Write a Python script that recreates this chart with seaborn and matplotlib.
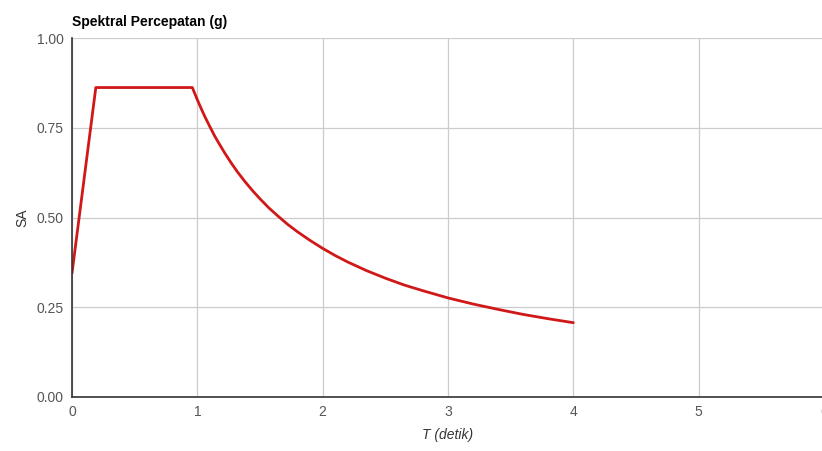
import matplotlib
matplotlib.use("Agg")
import matplotlib.pyplot as plt
import seaborn as sns
import pandas as pd

# Data
T = [0.0, 0.19, 0.96, 0.98, 1.0, 1.03, 1.06, 1.1, 1.14, 1.18, 1.22, 1.27, 1.32, 1.38,
     1.44, 1.5, 1.57, 1.64, 1.72, 1.8, 1.9, 2.0, 2.1, 2.2, 2.35, 2.5, 2.65, 2.8,
     3.0, 3.2, 3.4, 3.6, 3.8, 4.0]
SA = [0.345, 0.862, 0.862, 0.845, 0.828, 0.804, 0.781, 0.753, 0.726, 0.702, 0.679,
      0.652, 0.627, 0.600, 0.575, 0.552, 0.527, 0.505, 0.481, 0.460, 0.436, 0.414,
      0.394, 0.376, 0.352, 0.331, 0.312, 0.296, 0.276, 0.259, 0.244, 0.230, 0.218, 0.207]
x_ticks = [0, 1, 2, 3, 4, 5, 6]
y_ticks = [0.00, 0.25, 0.50, 0.75, 1.00]
title = "Spektral Percepatan (g)"
xlabel = "T (detik)"
ylabel = "SA"

df = pd.DataFrame({"T": T, "SA": SA})

sns.set_theme(style="white")
plt.rcParams["font.family"] = ["Liberation Sans", "DejaVu Sans"]

fig = plt.figure(figsize=(8.22, 4.51), dpi=100)
ax = fig.add_axes([72 / 822, 1 - 397 / 451, (824 - 72) / 822, (397 - 38) / 451])

sns.lineplot(data=df, x="T", y="SA", sort=False, color="#d01818", linewidth=2.0, ax=ax)

ax.set_xlim(0, 6)
ax.set_ylim(0, 1)
ax.set_xticks(x_ticks)
ax.set_yticks(y_ticks)
ax.set_xticklabels([str(v) for v in x_ticks])
ax.set_yticklabels([f"{v:.2f}" for v in y_ticks])
ax.grid(True, color="#cccccc", linewidth=0.9)
ax.set_axisbelow(True)
for s in ["top", "right"]:
    ax.spines[s].set_visible(False)
for s in ["left", "bottom"]:
    ax.spines[s].set_color("#333333")
    ax.spines[s].set_linewidth(1.2)
ax.tick_params(axis="both", length=0, labelsize=10, labelcolor="#555555", pad=6)
ax.set_xlabel(xlabel, fontsize=10, style="italic", color="#333333", labelpad=6)
ax.set_ylabel(ylabel, fontsize=10, color="#333333", labelpad=5)
fig.text(72 / 822, 1 - 22 / 451, title, fontsize=10, fontweight="bold", color="#000000",
         va="center", ha="left")

fig.savefig("out.png", dpi=100)
